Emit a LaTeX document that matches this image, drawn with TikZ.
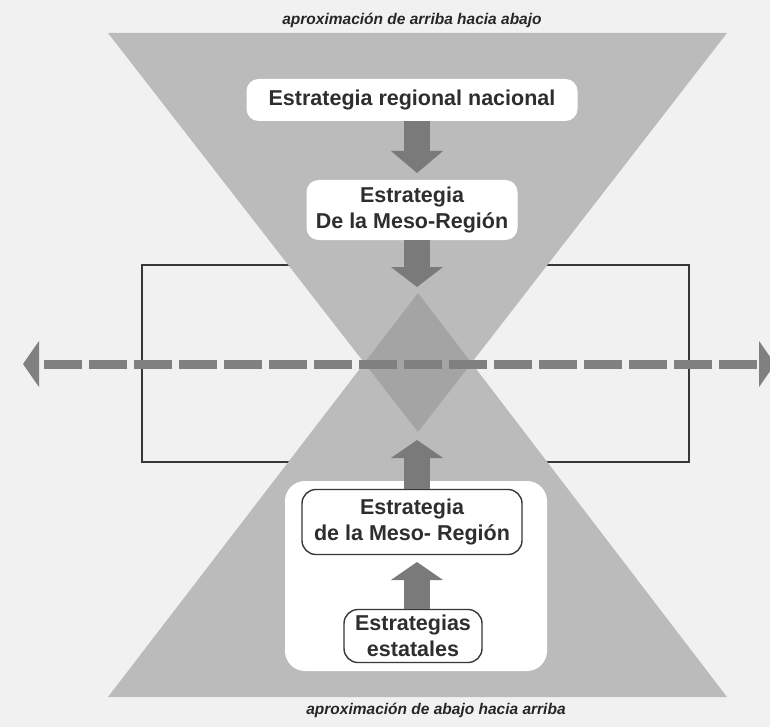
\documentclass[tikz,border=0pt]{standalone}
\usepackage{fontspec}
\setmainfont{Liberation Sans}
\usetikzlibrary{calc}

\definecolor{paper}{RGB}{241,241,241}
\definecolor{trigray}{RGB}{187,187,187}
\definecolor{overlapgray}{RGB}{164,164,164}
\definecolor{arrowgray}{RGB}{122,122,122}
\definecolor{dashgray}{RGB}{128,128,128}
\definecolor{edgegray}{RGB}{55,55,55}

% block arrow: #1 start point, #2 tip, #3 signed offset of the head base from the tip
\newcommand{\blockarrow}[3]{%
  \fill[arrowgray] ($(#1)+(-13,0)$) rectangle ($(#2)+(13,#3)$);
  \fill[arrowgray] ($(#2)+(-26,#3)$) -- ($(#2)+(26,#3)$) -- (#2) -- cycle;}

\begin{document}
\begin{tikzpicture}[x=1pt,y=-1pt,
  lbl/.style={font=\fontsize{15.5}{18}\selectfont\bfseries\itshape, text=black!85, inner sep=0pt},
  box/.style={fill=white, rounded corners=12pt, align=center, inner sep=0pt,
    font=\fontsize{21.5}{26}\selectfont\bfseries, text=black!82},
  framed/.style={box, draw=edgegray, line width=1.4pt, rounded corners=14pt}]

\fill[paper] (0,0) rectangle (770,727);
\useasboundingbox (0,0) rectangle (770,727);

% hourglass corners
\coordinate (TL) at (108,33);  \coordinate (TR) at (727,33);  \coordinate (TA) at (418,432);
\coordinate (BL) at (108,697); \coordinate (BR) at (727,697); \coordinate (BA) at (418,293);

% frame around the meeting zone (partly hidden by the triangles)
\draw[edgegray, line width=2pt] (142,265) rectangle (689,462);

% the two triangles and their overlap
\fill[trigray] (TL) -- (TR) -- (TA) -- cycle;
\fill[trigray] (BL) -- (BR) -- (BA) -- cycle;
\begin{scope}
  \clip (TL) -- (TR) -- (TA) -- cycle;
  \fill[overlapgray] (BL) -- (BR) -- (BA) -- cycle;
\end{scope}

% white panel behind the lower boxes
\fill[white, rounded corners=20pt] (285,481) rectangle (547,671);

% captions
\node[lbl] (capTop) at (412,20) {aproximación de arriba hacia abajo};
\node[lbl] (capBot) at (436,710) {aproximación de abajo hacia arriba};

% boxes
\node[box, minimum width=331pt, minimum height=42pt] (b1) at (412,100) {Estrategia regional nacional};
\node[box, minimum width=211pt, minimum height=60pt] (b2) at (412,210) {Estrategia\\De la Meso-Región};
\node[framed, minimum width=220pt, minimum height=65pt] (b3) at (412,522) {Estrategia\\de la Meso- Región};
\node[framed, minimum width=138pt, minimum height=53pt] (b4) at (413,636) {Estrategias\\estatales};

% arrow tips and starts on the axis
\coordinate (a1) at (417,173);
\coordinate (a2) at (417,287);
\coordinate (a3) at (417,440);
\coordinate (a4) at (417,562);
\coordinate (s1) at (b1.south -| a1);
\coordinate (s2) at (b2.south -| a2);
\coordinate (s3) at (b3.north -| a3);
\coordinate (s4) at (b4.north -| a4);

\blockarrow{s1}{a1}{-22}
\blockarrow{s2}{a2}{-20}
\blockarrow{s3}{a3}{18}
\blockarrow{s4}{a4}{18}

% dashed double arrow across the frame
\coordinate (L) at (23,364);
\coordinate (R) at (775,364);
\draw[dashgray, line width=9pt, dash pattern=on 38pt off 7pt, dash phase=40pt]
  ($(L)+(16,0)$) -- ($(R)+(-16,0)$);
\fill[dashgray] (L) -- ($(L)+(16,-23)$) -- ($(L)+(16,23)$) -- cycle;
\fill[dashgray] (R) -- ($(R)+(-16,-23)$) -- ($(R)+(-16,23)$) -- cycle;

\end{tikzpicture}
\end{document}
